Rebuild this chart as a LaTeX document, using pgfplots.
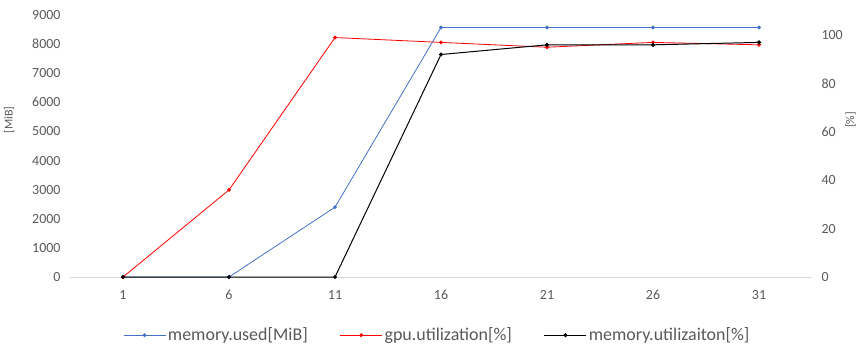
\documentclass[border=0pt]{standalone}
\usepackage{fontspec}
\setmainfont{Carlito}
\usepackage{pgfplots}
\pgfplotsset{compat=1.18}
\definecolor{exblue}{HTML}{4472C4}
\definecolor{exred}{HTML}{FF0000}
\definecolor{labgray}{HTML}{595959}
\definecolor{axgray}{HTML}{D9D9D9}
\begin{document}
\begin{tikzpicture}[x=1bp,y=1bp]
\useasboundingbox (0,0) rectangle (859,352);
\pgfplotsset{
  common/.style={
    scale only axis, width=742bp, height=262bp,
    at={(70bp,75bp)}, anchor=south west,
    xmin=-0.5, xmax=6.5, ymin=0,
    major tick length=0pt, tick style={draw=none},
    ticklabel style={font=\fontsize{14}{16}\selectfont, text=labgray},
    /pgf/number format/assume math mode=true,
    label style={font=\fontsize{12}{14}\selectfont, text=labgray},
    clip=false,
  },
  ser/.style={line width=0.8pt, mark=*, mark size=1.5pt, mark options={solid}},
}
\begin{axis}[common,
  ymax=9000, ytick={0,1000,...,9000},
  xtick={0,...,6}, xticklabels={1,6,11,16,21,26,31},
  axis x line*=bottom, axis y line*=left,
  y axis line style={draw=none},
  x axis line style={draw=axgray, line width=1pt, -},
  scaled y ticks=false,
  yticklabel style={/pgf/number format/1000 sep={}, xshift=-6bp},
  xticklabel style={yshift=-10bp},
  ylabel={[MiB]},
  ylabel style={at={(axis description cs:-0.082,0.6)}, anchor=center},
]
\addplot[ser, exblue] coordinates {(0,0)(1,0)(2,2400)(3,8570)(4,8570)(5,8570)(6,8570)};
\end{axis}
\begin{axis}[common,
  ymax=108.33, ytick={0,20,...,100},
  hide x axis,
  axis y line*=right,
  y axis line style={draw=none},
  yticklabel style={xshift=6bp},
  ylabel={[\%]},
  ylabel style={at={(axis description cs:1.052,0.6)}, anchor=center},
  legend columns=3,
  legend style={at={(axis description cs:0.495,-0.222)}, anchor=center, draw=none, fill=none,
    font=\fontsize{18}{20}\selectfont, text=labgray,
    /tikz/every even column/.append style={column sep=30bp}},
  legend image code/.code={\draw[#1, mark repeat=2, mark phase=2] plot coordinates {(0bp,0bp) (21bp,0bp) (42bp,0bp)};},
]
\addlegendimage{ser, exblue}
\addlegendentry{memory.used[MiB]}
\addplot[ser, exred] coordinates {(0,0)(1,36)(2,99)(3,97)(4,95)(5,97)(6,96)};
\addlegendentry{gpu.utilization[\%]}
\addplot[ser, black, line width=1pt] coordinates {(0,0)(1,0)(2,0)(3,92)(4,96)(5,96)(6,97)};
\addlegendentry{memory.utilizaiton[\%]}
\end{axis}
\end{tikzpicture}
\end{document}
